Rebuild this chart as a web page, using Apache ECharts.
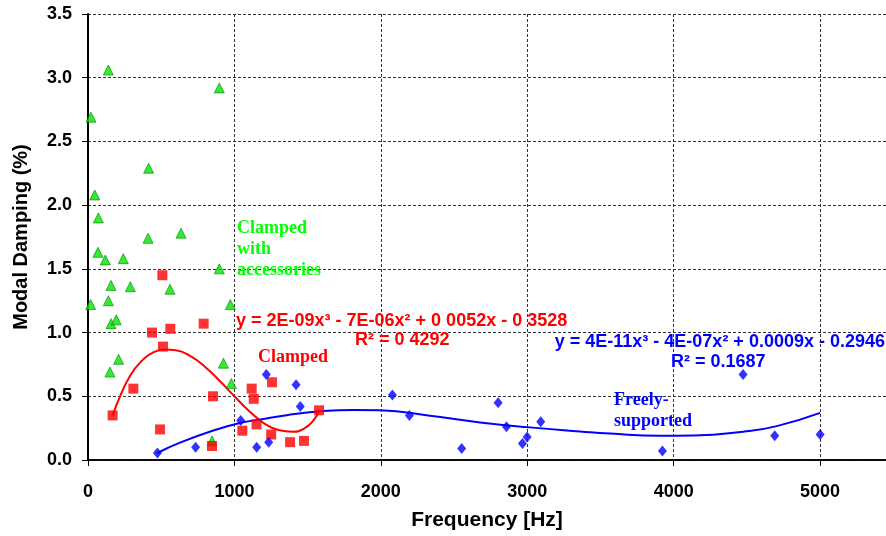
<!DOCTYPE html>
<html>
<head>
<meta charset="utf-8">
<script src="https://cdn.jsdelivr.net/npm/echarts@6/dist/echarts.min.js"></script>
<style>
  html, body { margin: 0; padding: 0; background: #fff; }
  #chart { width: 886px; height: 536px; }
</style>
</head>
<body>
<div id="chart"></div>
<script>
/* modal damping vs frequency, three mounting conditions + cubic trendlines */
const xTicks = [0, 1000, 2000, 3000, 4000, 5000];
const yTicks = [0, 0.5, 1.0, 1.5, 2.0, 2.5, 3.0, 3.5];

// clamped with accessories (green triangles)
const accX = [139, 897, 20, 414, 46, 71, 410, 635, 68, 118, 241, 897, 157, 289, 560, 18, 139, 972, 157, 193, 209, 150, 925, 979, 847];
const accY = [3.06, 2.92, 2.69, 2.29, 2.08, 1.90, 1.74, 1.78, 1.63, 1.57, 1.58, 1.50, 1.37, 1.36, 1.34, 1.22, 1.25, 1.22, 1.07, 1.10, 0.79, 0.69, 0.76, 0.60, 0.15];

// clamped (red squares)
const clampX = [508, 437, 562, 790, 512, 310, 854, 168, 492, 847, 1054, 1257, 1118, 1132, 1151, 1251, 1380, 1475, 1578];
const clampY = [1.45, 1.00, 1.03, 1.07, 0.89, 0.56, 0.50, 0.35, 0.24, 0.11, 0.23, 0.61, 0.56, 0.48, 0.28, 0.20, 0.14, 0.15, 0.39];

// freely-supported (blue diamonds)
const freeX = [474, 735, 1043, 1218, 1421, 1450, 1152, 1234, 2079, 2195, 2552, 2801, 2858, 2967, 2999, 3092, 4474, 3923, 4690, 5000];
const freeY = [0.055, 0.10, 0.31, 0.67, 0.59, 0.42, 0.10, 0.14, 0.51, 0.35, 0.09, 0.45, 0.26, 0.13, 0.18, 0.30, 0.67, 0.07, 0.19, 0.20];

// trendlines
const clampTrendX = [168, 219, 287, 360, 440, 520, 600, 700, 800, 900, 1000, 1100, 1200, 1300, 1400, 1480, 1540, 1578];
const clampTrendY = [0.35, 0.50, 0.66, 0.77, 0.84, 0.868, 0.862, 0.815, 0.73, 0.62, 0.50, 0.385, 0.29, 0.235, 0.222, 0.25, 0.31, 0.39];
const freeTrendX = [474, 628, 856, 1043, 1175, 1357, 1585, 1812, 1995, 2336, 2678, 3019, 3361, 3566, 3907, 4135, 4476, 4704, 5000];
const freeTrendY = [0.055, 0.136, 0.232, 0.292, 0.318, 0.352, 0.382, 0.393, 0.39, 0.348, 0.295, 0.256, 0.224, 0.207, 0.19, 0.192, 0.222, 0.266, 0.37];

const pairs = (xs, ys) => xs.map((x, i) => [x, ys[i]]);

const GREEN = "#00e600";
const RED = "#ff0000";
const BLUE = "#0000ff";
const sans = "Liberation Sans";
const serif = "Liberation Serif";

const chart = echarts.init(document.getElementById("chart"), null, { renderer: "canvas" });

const gridLine = { show: true, lineStyle: { color: "#333", type: [3, 2], width: 1 } };

chart.setOption({
  animation: false,
  backgroundColor: "#fff",
  grid: { left: 88, top: 14, right: 0, bottom: 75 },
  xAxis: [
    {
      type: "value",
      min: 0,
      max: 5450,
      interval: 1000,
      name: "Frequency [Hz]",
      nameLocation: "middle",
      nameGap: 50,
      nameTextStyle: { fontFamily: sans, fontWeight: "bold", fontSize: 21, color: "#000" },
      axisLine: { show: true, onZero: false, lineStyle: { color: "#000", width: 1.5 } },
      axisTick: { show: true, inside: false, length: 6, lineStyle: { color: "#000" } },
      axisLabel: {
        margin: 23,
        fontFamily: sans, fontWeight: "bold", fontSize: 18, color: "#000",
        formatter: (v) => (xTicks.includes(v) ? String(v) : ""),
        showMaxLabel: false
      },
      splitLine: gridLine
    },
    {
      type: "value",
      position: "top",
      min: 0,
      max: 5450,
      axisLine: { show: true, lineStyle: { color: "#000", width: 1.5 } },
      axisTick: { show: false },
      axisLabel: { show: false },
      splitLine: { show: false }
    }
  ],
  yAxis: {
    type: "value",
    min: 0,
    max: 3.5,
    interval: 0.5,
    name: "Modal Damping (%)",
    nameLocation: "middle",
    nameGap: 57,
    nameTextStyle: { fontFamily: sans, fontWeight: "bold", fontSize: 20, color: "#000" },
    axisLine: { show: true, lineStyle: { color: "#000", width: 2 } },
    axisTick: { show: true, length: 6, lineStyle: { color: "#000" } },
    axisLabel: {
      margin: 16,
      fontFamily: sans, fontWeight: "bold", fontSize: 18, color: "#000",
      formatter: (v) => (yTicks.includes(v) ? v.toFixed(1) : "")
    },
    splitLine: gridLine
  },
  series: [
    {
      name: "Clamped trend",
      type: "line",
      data: pairs(clampTrendX, clampTrendY),
      smooth: 0.5,
      showSymbol: false,
      lineStyle: { color: RED, width: 2 },
      z: 2
    },
    {
      name: "Freely-supported trend",
      type: "line",
      data: pairs(freeTrendX, freeTrendY),
      smooth: 0.5,
      showSymbol: false,
      lineStyle: { color: BLUE, width: 2 },
      z: 2
    },
    {
      name: "Clamped with accessories",
      type: "scatter",
      data: pairs(accX, accY),
      symbol: "triangle",
      symbolSize: 10,
      itemStyle: { color: GREEN, borderColor: "#008800", borderWidth: 0.8 },
      z: 3
    },
    {
      name: "Clamped",
      type: "scatter",
      data: pairs(clampX, clampY),
      symbol: "rect",
      symbolSize: 10,
      itemStyle: { color: RED },
      z: 3
    },
    {
      name: "Freely-supported",
      type: "scatter",
      data: pairs(freeX, freeY),
      symbol: "diamond",
      symbolSize: [9, 11],
      itemStyle: { color: BLUE },
      z: 3
    }
  ],
  graphic: [
    {
      type: "text", left: 237, top: 218, z: 10,
      style: { text: "Clamped\nwith\naccessories", fill: "#00ff00", fontFamily: serif, fontWeight: "bold", fontSize: 18, lineHeight: 21 }
    },
    {
      type: "text", left: 236, top: 311, z: 10,
      style: { text: "y = 2E-09x³ - 7E-06x² + 0 0052x - 0 3528", fill: RED, fontFamily: sans, fontWeight: "bold", fontSize: 18, lineHeight: 20 }
    },
    {
      type: "text", left: 355, top: 330, z: 10,
      style: { text: "R² = 0 4292", fill: RED, fontFamily: sans, fontWeight: "bold", fontSize: 18, lineHeight: 20 }
    },
    {
      type: "text", left: 258, top: 347, z: 10,
      style: { text: "Clamped", fill: RED, fontFamily: serif, fontWeight: "bold", fontSize: 18, lineHeight: 20 }
    },
    {
      type: "text", right: 1, top: 332, z: 10,
      style: { text: "y = 4E-11x³ - 4E-07x² + 0.0009x - 0.2946", fill: BLUE, fontFamily: sans, fontWeight: "bold", fontSize: 18, lineHeight: 20 }
    },
    {
      type: "text", left: 671, top: 352, z: 10,
      style: { text: "R² = 0.1687", fill: BLUE, fontFamily: sans, fontWeight: "bold", fontSize: 18, lineHeight: 20 }
    },
    {
      type: "text", left: 614, top: 390, z: 10,
      style: { text: "Freely-\nsupported", fill: BLUE, fontFamily: serif, fontWeight: "bold", fontSize: 18, lineHeight: 21 }
    }
  ]
});

window.addEventListener("resize", () => chart.resize());
</script>
</body>
</html>
